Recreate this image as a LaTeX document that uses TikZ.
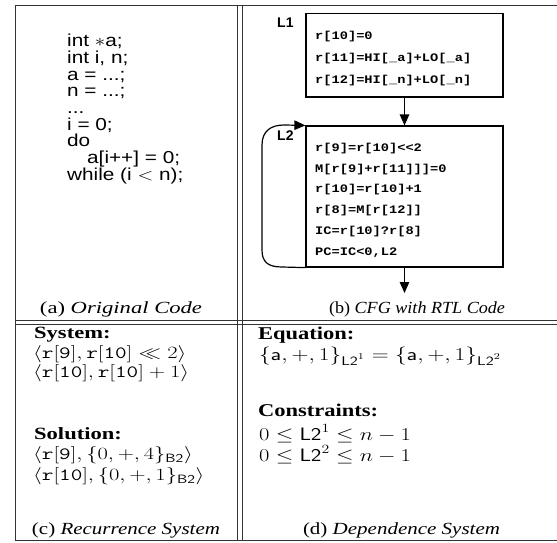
\documentclass[tikz,border=0pt]{standalone}
\usepackage{fix-cm}
\usepackage[no-math]{fontspec}
\usepackage{graphicx}
\newfontfamily\Sans{Liberation Sans}
\newfontfamily\Serif{Liberation Serif}
\newfontfamily\Mono{Liberation Mono}
\usetikzlibrary{arrows.meta}
\newcommand\sx[1]{\scalebox{1.2}[1]{#1}}
\newcommand\sy[1]{\scalebox{1.25}[1]{#1}}
\newcommand\scc[1]{\scalebox{1.31}[1]{#1}}
\newcommand\sm[1]{\scalebox{1.19}[1]{#1}}
\begin{document}
\begin{tikzpicture}[x=1pt,y=-1pt,
  rule/.style={draw=black!80, line width=0.9pt},
  blk/.style={draw, line width=1.2pt, minimum width=197pt, inner sep=0pt},
  arr/.style={line width=1.2pt, -{Triangle[width=9.5pt,length=11pt]}},
  code/.style={anchor=base west, inner sep=0pt, font=\Sans\fontsize{17.3}{20}\selectfont},
  rtl/.style={anchor=base west, inner sep=0pt, font=\Mono\bfseries\fontsize{11.5}{14}\selectfont},
  lbl/.style={anchor=base west, inner sep=0pt, font=\Sans\bfseries\fontsize{14}{16}\selectfont},
  hdt/.style={anchor=base west, inner sep=0pt, font=\Serif\bfseries\fontsize{18}{20}\selectfont},
  mth/.style={anchor=base west, inner sep=0pt, font=\fontsize{18}{20}\selectfont},
  hdc/.style={anchor=base west, inner sep=0pt, font=\Serif\bfseries\fontsize{17.2}{19}\selectfont},
  mthc/.style={anchor=base west, inner sep=0pt, font=\fontsize{17.2}{19}\selectfont},
  captext/.style={anchor=base, inner sep=0pt, font=\Serif\fontsize{17}{20}\selectfont}]
\useasboundingbox (0,0) rectangle (557,542);
% table rules
\draw[rule] (15,5.5) -- (557,5.5);
\draw[rule] (15,5.5) -- (15,540.5);
\draw[rule] (15,540.5) -- (557,540.5);
\draw[rule] (237,5.5) -- (237,540.5);
\draw[rule] (242,5.5) -- (242,540.5);
\draw[rule] (15,320.5) -- (557,320.5);
\draw[rule] (15,324.5) -- (557,324.5);
% (a) original code
\node[code] (a1) at (67,46.7) {\sx{int $\ast$a;}};
\node[code] (a2) at (67,63.4) {\sx{int i, n;}};
\node[code] (a3) at (67,80.0) {\sx{a = ...;}};
\node[code] (a4) at (67,96.7) {\sx{n = ...;}};
\node[code] (a5) at (67,113.4) {\sx{...}};
\node[code] (a6) at (67,130.0) {\sx{i = 0;}};
\node[code] (a7) at (67,146.7) {\sx{do}};
\node[code] (a8) at (87,163.4) {\sx{a[i++] = 0;}};
\node[code] (a9) at (67,180.0) {\sx{while (i $<$ n);}};
% (b) CFG
\node[blk, minimum height=83.5pt] (L1) at (404.5,55.25) {};
\node[blk, minimum height=141pt] (L2) at (404.5,196.5) {};
\node[lbl] (L1lab) at (277,27) {L1};
\node[lbl] (L2lab) at (277,140.5) {L2};
\node[rtl] (r1) at (315,39) {\sm{r[10]=0}};
\node[rtl] (r2) at (315,61) {\sm{r[11]=HI[\_a]+LO[\_a]}};
\node[rtl] (r3) at (315,83) {\sm{r[12]=HI[\_n]+LO[\_n]}};
\node[rtl] (s1) at (315,151.5) {\sm{r[9]=r[10]<<2}};
\node[rtl] (s2) at (315,172.2) {\sm{M[r[9]+r[11]]]=0}};
\node[rtl] (s3) at (315,192.9) {\sm{r[10]=r[10]+1}};
\node[rtl] (s4) at (315,213.6) {\sm{r[8]=M[r[12]]}};
\node[rtl] (s5) at (315,234.3) {\sm{IC=r[10]?r[8]}};
\node[rtl] (s6) at (315,255) {\sm{PC=IC<0,L2}};
\coordinate (exit) at (404.5,293);
\draw[arr] (L1.south) -- (L2.north);
\draw[arr] (L2.south) -- (exit);
\draw[arr] (L2.south west) -- (282,267) .. controls (268,267) and (262,262) .. (262,250)
  -- (262,145) .. controls (262,131) and (271,125) .. (284,125) -- (L2.north west);
% captions top
\node[captext] (capa) at (121,313) {\resizebox{162pt}{\height}{(a) \textit{Original Code}}};
\node[captext] (capb) at (417,313) {\resizebox{176pt}{\height}{(b) \textit{CFG with RTL Code}}};
% (c) recurrence system
\node[hdc] (sys) at (34,338.5) {\scc{System:}};
\node[mthc] (c1) at (33,358) {\scc{$\langle \mathtt{r}[\mathtt{9}], \mathtt{r}[\mathtt{10}] \ll 2\rangle$}};
\node[mthc] (c2) at (33,377) {\scc{$\langle \mathtt{r}[\mathtt{10}], \mathtt{r}[\mathtt{10}] + 1\rangle$}};
\node[hdc] (sol) at (34,439.5) {\scc{Solution:}};
\node[mthc] (c3) at (33,459.5) {\scc{$\langle \mathtt{r}[\mathtt{9}], \{0,+,4\}_{\mathsf{B2}}\rangle$}};
\node[mthc] (c4) at (33,480.5) {\scc{$\langle \mathtt{r}[\mathtt{10}], \{0,+,1\}_{\mathsf{B2}}\rangle$}};
% (d) dependence system
\node[hdt] (eqh) at (258,339.5) {\sy{Equation:}};
\node[mth] (eq) at (259,360) {\scalebox{1.3}[1]{$\{\mathsf{a},+,1\}_{\mathsf{L2}^1} = \{\mathsf{a},+,1\}_{\mathsf{L2}^2}$}};
\node[hdt] (cons) at (258,416) {\sy{Constraints:}};
\node[mth] (d1) at (259,440) {\sy{$0 \le \mathsf{L2}^1 \le n-1$}};
\node[mth] (d2) at (259,461) {\sy{$0 \le \mathsf{L2}^2 \le n-1$}};
% captions bottom
\node[captext] (capc) at (126,534) {\resizebox{188pt}{\height}{(c) \textit{Recurrence System}}};
\node[captext] (capd) at (401.5,534) {\resizebox{197pt}{\height}{(d) \textit{Dependence System}}};
\end{tikzpicture}
\end{document}
